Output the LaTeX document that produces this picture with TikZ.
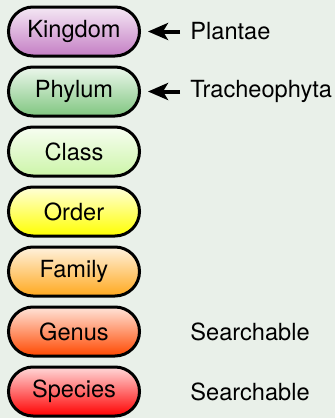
\documentclass[tikz,border=0pt]{standalone}
\usepackage{fontspec}
\setmainfont{TeX Gyre Heros}
\usepackage{xcolor}
\usetikzlibrary{positioning}
\usetikzlibrary{arrows.meta}
\definecolor{bgcol}{RGB}{233,240,233}
\definecolor{kingdomcol}{RGB}{196,126,196}
\definecolor{phylumcol}{RGB}{128,198,128}
\definecolor{classcol}{RGB}{204,245,168}
\definecolor{ordercol}{RGB}{255,255,0}
\definecolor{familycol}{RGB}{255,168,30}
\definecolor{genuscol}{RGB}{255,72,0}
\definecolor{speciescol}{RGB}{255,0,0}

\begin{document}
\begin{tikzpicture}
  \tikzset{Rank/.style={rectangle, draw, line width=1.5pt, rounded corners=12.25pt, text centered, inner xsep=0pt, minimum width=65.5pt, minimum height=24.5pt, outer sep=0pt, font=\fontsize{11.8}{14}\selectfont}};
  \tikzset{Note/.style={inner sep=2.5pt, font=\fontsize{11.8}{14}\selectfont}};
  \tikzset{Pointer/.style={-{Stealth[length=10pt,width=8.5pt,inset=2.5pt]}, line width=2pt, shorten >=4.25pt, shorten <=2.5pt}};
  \fill[bgcol] (0,0) rectangle (167.5pt,-209pt);
  \useasboundingbox (0,0) rectangle (167.5pt,-209pt);
  \node[Rank, top color=kingdomcol!18!white, bottom color=kingdomcol] (a) at (37pt,-15.75pt) {Kingdom};
  \node[Rank, top color=phylumcol!15!white, bottom color=phylumcol][below=5.5pt of a] (b) {Phylum};
  \node[Rank, top color=classcol!15!white, bottom color=classcol][below=5.5pt of b] (c) {Class};
  \node[Rank, top color=ordercol!15!white, bottom color=ordercol][below=5.5pt of c] (d) {Order};
  \node[Rank, top color=familycol!15!white, bottom color=familycol][below=5.5pt of d] (e) {Family};
  \node[Rank, top color=genuscol!15!white, bottom color=genuscol][below=5.5pt of e] (f) {Genus};
  \node[Rank, top color=speciescol!15!white, bottom color=speciescol][below=5.5pt of f] (g) {Species};
  \node[Note][right=22.75pt of a] (h) {Plantae};
  \node[Note][right=22.75pt of b] (i) {Tracheophyta};
  \node[Note][right=22.75pt of f] (j) {Searchable};
  \node[Note][right=22.75pt of g] (k) {Searchable};
  \draw[Pointer] (h) -- (a);
  \draw[Pointer] (i) -- (b);
\end{tikzpicture}
\end{document}
